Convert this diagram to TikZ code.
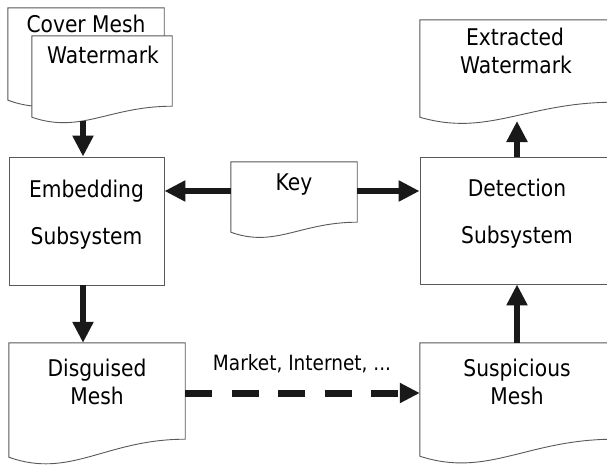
\documentclass[tikz,border=0pt]{standalone}
\usepackage{fontspec}
\setmainfont{DejaVu Sans}[FakeStretch=0.88]
\usetikzlibrary{arrows.meta,calc}
\newcommand\wavedoc[3]{%
  \draw[docline] (#1.south west) -- (#1.north west) -- (#1.north east) -- ($(#1.south east)+(0,-#2)$)
    .. controls ($(#1.south west)!0.55!(#1.south east)+(0,-#2)$) and ($(#1.south west)!0.35!(#1.south east)+(0,#3)$) .. (#1.south west) -- cycle;}
\begin{document}
\begin{tikzpicture}[x=1pt,y=-1pt,
  docline/.style={draw=black!65,line width=0.9pt,fill=white,line join=miter},
  shapebox/.style={draw=none,inner sep=0pt,rectangle},
  sysbox/.style={draw=black!65,line width=0.9pt,fill=white,inner sep=0pt,rectangle},
  lab/.style={anchor=base,inner sep=0pt,font=\fontsize{23}{27}\selectfont},
  smalllab/.style={anchor=base,inner sep=0pt,font=\fontsize{21}{25}\selectfont},
  arr/.style={line width=6.5pt,draw=black!90,-{Triangle[length=21pt,width=20pt]}},
  darr/.style={line width=7pt,draw=black!90,dash pattern=on 27pt off 19.5pt,-{Triangle[length=20pt,width=19pt]}}]
\fill[white] (0,0) rectangle (607,464);
\useasboundingbox (0,0) rectangle (607,464);
\clip (0,0) rectangle (607,464);
% cover mesh and watermark
\node[shapebox,minimum width=156pt,minimum height=92pt] (cover) at (86,54) {};
\wavedoc{cover}{14}{20}
\node[lab] (coverT) at (86,32) {Cover Mesh};
\node[shapebox,minimum width=140pt,minimum height=81pt] (wm) at (102,76.5) {};
\wavedoc{wm}{11}{17}
\node[lab] (wmT) at (103,63) {Watermark};
\coordinate (wmB) at (83,121);
% embedding
\node[sysbox,minimum width=155pt,minimum height=128pt] (emb) at (86.5,221) {};
\node[lab] (embT1) at (86.5,197) {Embedding};
\node[lab] (embT2) at (86.5,244) {Subsystem};
% key
\node[shapebox,minimum width=126pt,minimum height=70pt] (key) at (294,197) {};
\wavedoc{key}{10}{16}
\node[lab] (keyT) at (294,190) {Key};
% detection
\node[sysbox,minimum width=194pt,minimum height=127pt] (det) at (517,220.5) {};
\node[lab] (detT1) at (517,196) {Detection};
\node[lab] (detT2) at (517,243) {Subsystem};
% extracted
\node[shapebox,minimum width=194pt,minimum height=97pt] (ext) at (517,68.5) {};
\wavedoc{ext}{15}{20}
\node[lab] (extT1) at (515,45) {Extracted};
\node[lab] (extT2) at (516,73) {Watermark};
\coordinate (extB) at (517,121);
% disguised
\node[shapebox,minimum width=176pt,minimum height=114pt] (dis) at (97,400) {};
\wavedoc{dis}{18}{22}
\node[lab] (disT1) at (97,376) {Disguised};
\node[lab] (disT2) at (97,404) {Mesh};
% suspicious
\node[shapebox,minimum width=194pt,minimum height=113pt] (sus) at (517,399.5) {};
\wavedoc{sus}{17}{22}
\node[lab] (susT1) at (517,376) {Suspicious};
\node[lab] (susT2) at (517,404) {Mesh};
\node[smalllab] (mkt) at (302,370) {Market, Internet, ...};
% connectors
\draw[arr] (wmB) -- (wmB |- emb.north);
\draw[arr] ([xshift=-3.5pt]emb.south) -- ([xshift=-3.5pt]emb.south |- dis.north);
\draw[arr] ([yshift=6pt]key.west) -- ([yshift=30pt]emb.east);
\draw[arr] ([yshift=6pt]key.east) -- ([yshift=29.5pt]det.west);
\draw[arr] (det.north) -- (extB);
\draw[arr] (sus.north) -- (det.south);
\draw[darr] ([yshift=7pt]dis.east) -- ([yshift=6.5pt]sus.west);
\end{tikzpicture}
\end{document}
